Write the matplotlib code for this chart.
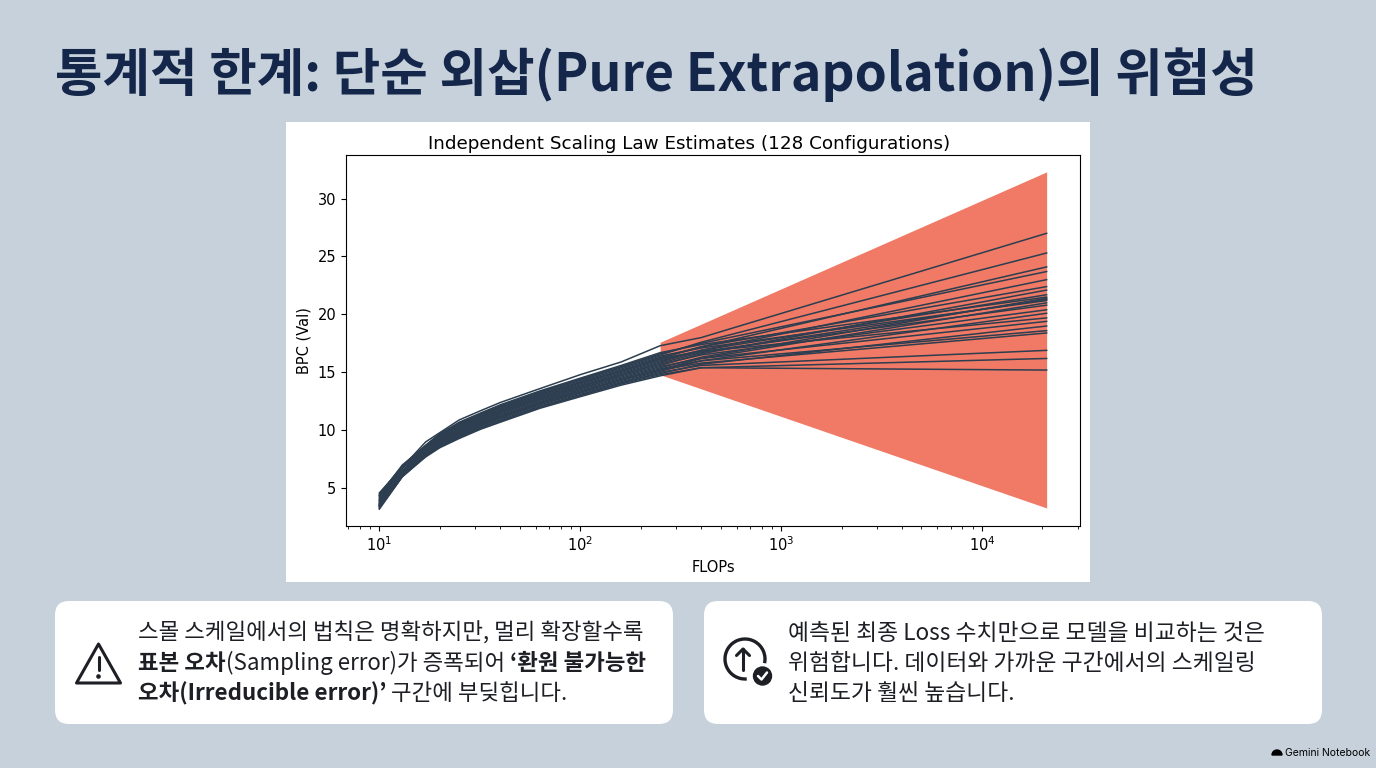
import numpy as np
import matplotlib.pyplot as plt
from matplotlib.patches import FancyBboxPatch, Rectangle, Polygon, Circle, Arc, Wedge

# slide text
title = "통계적 한계: 단순 외삽(Pure Extrapolation)의 위험성"
chart_title = "Independent Scaling Law Estimates (128 Configurations)"
x_label = "FLOPs"
y_label = "BPC (Val)"

# FLOPs where each curve is sampled (last point = extrapolation end)
flops = [10, 13, 17, 20, 25, 32, 40, 63, 100, 160, 250, 400, 21000]

# BPC of each configuration at those FLOPs
curves = [
    [4.6, 6.8, 9.0, 9.8, 10.9, 11.7, 12.4, 13.6, 14.8, 15.9, 17.3, 18.0, 27.0],
    [4.0, 6.8, 8.6, 9.6, 10.6, 11.4, 12.1, 13.3, 14.4, 15.5, 16.5, 17.6, 25.3],
    [3.6, 6.5, 8.4, 9.4, 10.3, 11.1, 11.8, 13.0, 14.1, 15.1, 16.2, 17.2, 24.1],
    [4.3, 6.9, 8.7, 9.7, 10.6, 11.4, 12.1, 13.3, 14.4, 15.5, 16.6, 17.5, 23.7],
    [3.8, 6.5, 8.3, 9.2, 10.1, 10.9, 11.6, 12.8, 13.8, 14.9, 15.9, 16.9, 23.0],
    [4.5, 6.9, 8.5, 9.5, 10.5, 11.3, 11.9, 13.1, 14.2, 15.3, 16.3, 17.2, 22.4],
    [3.5, 6.3, 8.2, 9.1, 9.9, 10.7, 11.4, 12.6, 13.6, 14.7, 15.6, 16.6, 22.1],
    [4.1, 6.7, 8.4, 9.4, 10.3, 11.1, 11.7, 12.9, 14.0, 15.1, 16.1, 16.9, 21.7],
    [4.4, 7.0, 8.7, 9.7, 10.7, 11.5, 12.2, 13.4, 14.5, 15.6, 16.7, 17.4, 21.5],
    [3.4, 6.2, 8.1, 9.0, 9.8, 10.6, 11.2, 12.4, 13.5, 14.5, 15.4, 16.3, 21.4],
    [3.9, 6.5, 8.3, 9.2, 10.1, 10.9, 11.5, 12.7, 13.8, 14.8, 15.8, 16.7, 21.3],
    [4.2, 6.8, 8.6, 9.6, 10.5, 11.3, 12.0, 13.2, 14.3, 15.4, 16.4, 17.1, 21.2],
    [3.7, 6.3, 8.0, 8.9, 9.7, 10.5, 11.1, 12.3, 13.3, 14.4, 15.2, 16.2, 21.0],
    [3.9, 6.5, 8.3, 9.3, 10.2, 11.0, 11.7, 12.9, 13.9, 15.0, 16.0, 16.8, 20.8],
    [4.0, 6.5, 8.2, 9.1, 10.0, 10.8, 11.5, 12.7, 13.7, 14.8, 15.7, 16.5, 20.4],
    [3.3, 6.1, 7.9, 8.8, 9.6, 10.4, 11.0, 12.2, 13.2, 14.2, 15.1, 16.0, 20.1],
    [4.4, 6.9, 8.5, 9.5, 10.4, 11.2, 11.9, 13.1, 14.1, 15.2, 16.2, 16.8, 19.7],
    [3.5, 6.3, 8.1, 9.0, 9.9, 10.7, 11.3, 12.5, 13.6, 14.6, 15.5, 16.2, 19.4],
    [3.3, 6.0, 7.8, 8.6, 9.4, 10.2, 10.8, 12.0, 13.0, 14.1, 14.9, 15.7, 19.0],
    [3.7, 6.3, 8.0, 8.9, 9.8, 10.6, 11.2, 12.4, 13.4, 14.4, 15.3, 16.0, 18.6],
    [3.6, 6.2, 7.9, 8.8, 9.6, 10.4, 11.1, 12.3, 13.3, 14.3, 15.2, 15.8, 18.4],
    [3.2, 6.0, 7.8, 8.7, 9.5, 10.3, 10.9, 12.1, 13.1, 14.1, 15.0, 15.6, 16.9],
    [3.5, 6.1, 7.8, 8.6, 9.4, 10.2, 10.8, 12.0, 13.0, 14.0, 14.8, 15.4, 16.2],
    [3.4, 6.0, 7.7, 8.5, 9.3, 10.1, 10.7, 11.9, 12.9, 13.9, 14.7, 15.4, 15.2],
]

# extrapolation uncertainty band
band_flops = [250, 21000]
band_low = [14.8, 3.3]
band_high = [17.6, 32.3]

left_runs = [
    [("스몰 스케일에서의 법칙은 명확하지만, 멀리 확장할수록", "normal")],
    [("표본 오차", "bold"), ("(Sampling error)가 증폭되어 ", "normal"), ("‘환원 불가능한", "bold")],
    [("오차(Irreducible error)’", "bold"), (" 구간에 부딪힙니다.", "normal")],
]
right_lines = [
    "예측된 최종 Loss 수치만으로 모델을 비교하는 것은",
    "위험합니다. 데이터와 가까운 구간에서의 스케일링",
    "신뢰도가 훨씬 높습니다.",
]
brand = "Gemini Notebook"

W, H = 1376, 768
BG = "#C6D1DB"
NAVY = "#14264A"
INK = "#1D1F24"
KR = ["Noto Sans CJK KR", "DejaVu Sans"]

fig = plt.figure(figsize=(W / 100, H / 100), dpi=100, facecolor=BG)

# full-slide layer in pixel coordinates
bg = fig.add_axes([0, 0, 1, 1], zorder=0)
bg.set_xlim(0, W)
bg.set_ylim(H, 0)
bg.axis("off")

bg.text(55, 75, title, fontsize=37.2, fontweight="bold", color=NAVY,
        family=KR, va="center", ha="left")

bg.add_patch(Rectangle((286, 122), 804, 460, facecolor="white", edgecolor="none"))

for x0 in (55, 704):
    bg.add_patch(FancyBboxPatch((x0, 601), 618, 123,
                                boxstyle="round,pad=0,rounding_size=14",
                                facecolor="white", edgecolor="none"))

# warning icon
bg.add_patch(Polygon([(98.5, 644), (76.5, 683), (120.5, 683)], closed=True,
                     fill=False, edgecolor=INK, linewidth=2.2, joinstyle="round"))
bg.plot([98.5, 98.5], [657, 670], color=INK, linewidth=2.2, solid_capstyle="round")
bg.add_patch(Circle((98.5, 676.5), 1.6, color=INK))

# upload/check icon
bg.add_patch(Arc((745, 659), 40, 40, theta1=85, theta2=372, color=INK, linewidth=2.4))
bg.plot([743, 743], [649, 670], color=INK, linewidth=2.2, solid_capstyle="round")
bg.plot([736.5, 743, 749.5], [655.5, 649, 655.5], color=INK, linewidth=2.2,
        solid_capstyle="round", solid_joinstyle="round")
bg.add_patch(Circle((762.5, 676), 9, color=INK))
bg.plot([758, 761.5, 767], [676, 679.5, 672.5], color="white", linewidth=1.8,
        solid_capstyle="round", solid_joinstyle="round")

# box texts
fig.canvas.draw()
renderer = fig.canvas.get_renderer()
inv = bg.transData.inverted()
baselines = [640, 670, 700]
for runs, yb in zip(left_runs, baselines):
    x = 138
    for txt, wt in runs:
        t = bg.text(x, yb, txt, fontsize=16.1, fontweight=wt, color=INK,
                    family=KR, va="baseline", ha="left")
        bb = t.get_window_extent(renderer)
        x = inv.transform((bb.x1, bb.y0))[0]
for txt, yb in zip(right_lines, baselines):
    bg.text(788, yb, txt, fontsize=16.4, color=INK, family=KR,
            va="baseline", ha="left")

bg.add_patch(Wedge((1277, 755), 5, 180, 360, color="black"))
bg.text(1285, 753, brand, fontsize=7.5, color="black", va="center", ha="left",
        family=["Inter", "DejaVu Sans"])

# chart
ax = fig.add_axes([346 / W, 1 - 526 / H, (1080 - 346) / W, (526 - 155) / H], zorder=2)
ax.fill_between(band_flops, band_low, band_high, color="#F07A65", linewidth=0, zorder=1)
for c in curves:
    ax.plot(flops, c, color="#2C3E50", linewidth=1.1, zorder=2)
ax.set_xscale("log")
ax.set_title(chart_title, fontsize=13.2, pad=4, x=0.468)
ax.set_xlabel(x_label, fontsize=10.5)
ax.set_ylabel(y_label, fontsize=10.5)
ax.set_yticks([5, 10, 15, 20, 25, 30])
ax.tick_params(labelsize=10.5)

fig.savefig("out.png", dpi=100, facecolor=BG)
